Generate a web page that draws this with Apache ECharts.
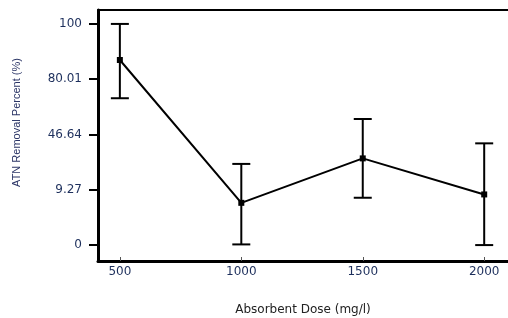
<!DOCTYPE html>
<html>
<head>
  <meta charset="utf-8">
  <title>ATN Removal</title>
  <script src="https://cdn.jsdelivr.net/npm/echarts@6/dist/echarts.min.js"></script>
  <style>
    html, body { margin: 0; padding: 0; background: #fff; }
    #main { width: 508px; height: 318px; }
  </style>
</head>
<body>
  <div id="main"></div>
  <script>
  // dose categories and measured values
  var doses = [500, 1000, 1500, 2000];
  var meanVals = [83.7, 19.1, 39.2, 22.9];
  var lowVals = [66.4, 0.3, 21.4, 0];
  var highVals = [100, 36.7, 57.0, 46.0];

  // y ticks sit evenly spaced but carry these labels
  var yTickValues = [0, 25, 50, 75, 100];
  var yTickLabels = ['0', '9.27', '46.64', '80.01', '100'];

  var lineData = doses.map(function (d, i) { return [d, meanVals[i]]; });
  var errData = doses.map(function (d, i) { return [d, lowVals[i], highVals[i]]; });

  var labelColor = '#1d2f5c';
  var chart = echarts.init(document.getElementById('main'));

  chart.setOption({
    animation: false,
    grid: { left: 98, right: 0, top: 10, bottom: 57, outerBoundsMode: 'none' },
    xAxis: [{
      type: 'value',
      min: 410,
      max: 2098,
      name: 'Absorbent Dose (mg/l)',
      nameLocation: 'middle',
      nameGap: 43,
      nameTextStyle: { color: '#222', fontSize: 12, fontFamily: 'DejaVu Sans' },
      splitLine: { show: false },
      axisLine: { onZero: false, lineStyle: { color: '#000', width: 3 } },
      axisTick: { inside: true, length: 4, customValues: doses, lineStyle: { color: '#555', width: 1 } },
      axisLabel: {
        customValues: doses, color: labelColor, fontSize: 12, margin: 5, fontFamily: 'DejaVu Sans',
        formatter: function (v) { return String(v); }
      }
    }, {
      type: 'value',
      position: 'top',
      min: 410,
      max: 2098,
      splitLine: { show: false },
      axisLine: { show: true, onZero: false, lineStyle: { color: '#000', width: 2 } },
      axisTick: { show: false },
      axisLabel: { show: false }
    }],
    yAxis: {
      type: 'value',
      min: -7.2,
      max: 106.3,
      name: 'ATN Removal Percent (%)',
      nameLocation: 'middle',
      nameGap: 76,
      nameTextStyle: { color: '#2b3566', fontSize: 11, fontFamily: 'Liberation Sans', padding: [0, 0, 0, 26] },
      splitLine: { show: false },
      axisLine: { onZero: false, lineStyle: { color: '#000', width: 3 } },
      axisTick: { length: 9, customValues: yTickValues, lineStyle: { color: '#000', width: 2 } },
      axisLabel: {
        customValues: yTickValues,
        color: labelColor,
        fontSize: 12,
        margin: 16,
        fontFamily: 'DejaVu Sans',
        formatter: function (v) {
          var i = yTickValues.indexOf(v);
          return i >= 0 ? yTickLabels[i] : '';
        }
      }
    },
    series: [{
      type: 'custom',
      data: errData,
      z: 3,
      renderItem: function (params, api) {
        var x = api.value(0);
        var lo = api.coord([x, api.value(1)]);
        var hi = api.coord([x, api.value(2)]);
        var half = 9;
        var st = { stroke: '#000', lineWidth: 2 };
        return {
          type: 'group',
          children: [
            { type: 'line', shape: { x1: lo[0], y1: lo[1], x2: hi[0], y2: hi[1] }, style: st },
            { type: 'line', shape: { x1: lo[0] - half, y1: lo[1], x2: lo[0] + half, y2: lo[1] }, style: st },
            { type: 'line', shape: { x1: hi[0] - half, y1: hi[1], x2: hi[0] + half, y2: hi[1] }, style: st }
          ]
        };
      }
    }, {
      type: 'line',
      data: lineData,
      z: 4,
      symbol: 'rect',
      symbolSize: 6,
      lineStyle: { color: '#000', width: 2 },
      itemStyle: { color: '#000' }
    }]
  });
  </script>
</body>
</html>
